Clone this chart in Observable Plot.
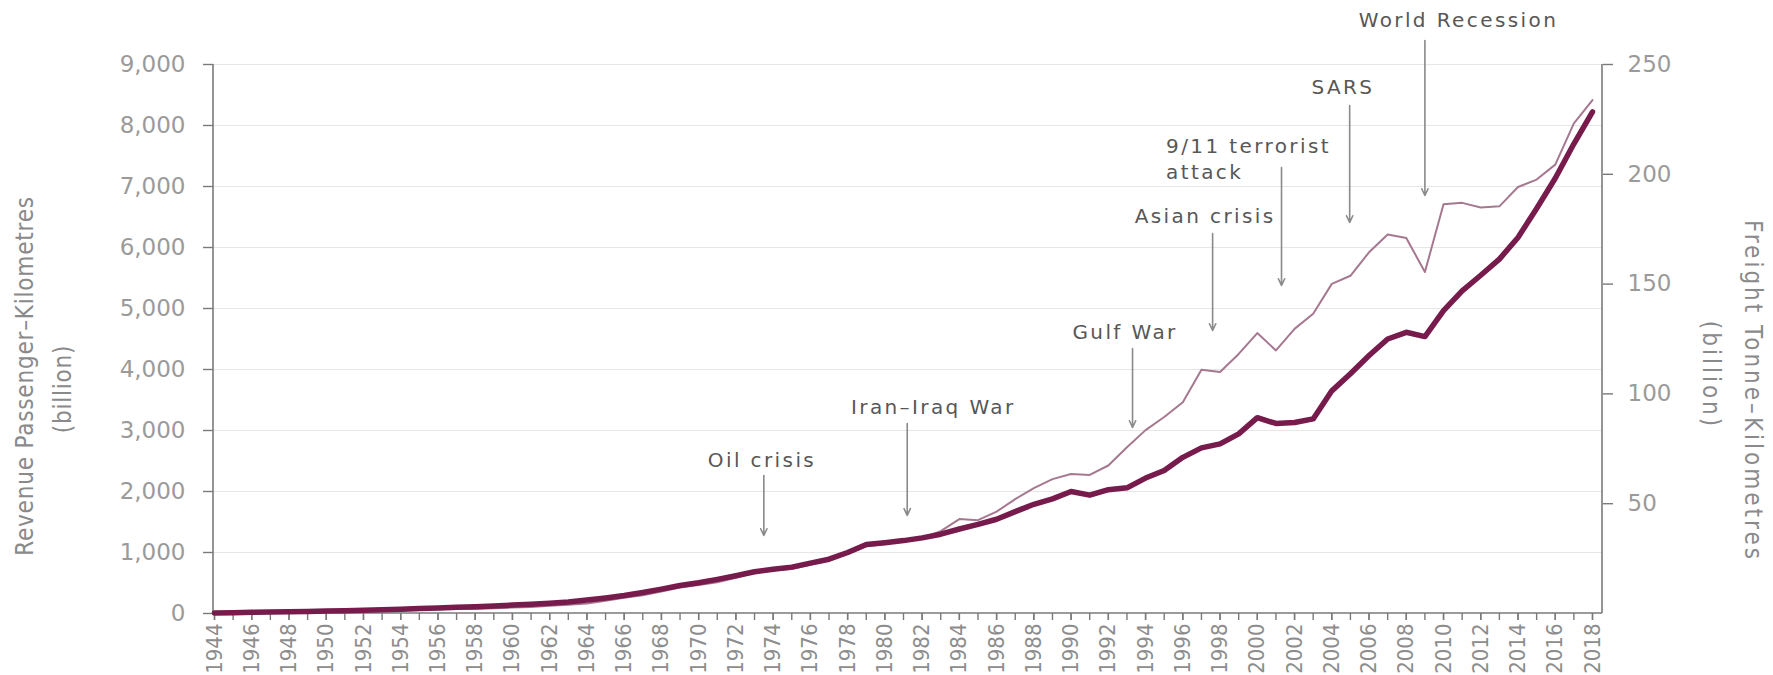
<!DOCTYPE html>
<html>
<head>
<meta charset="utf-8">
<script src="https://cdn.jsdelivr.net/npm/d3@7"></script>
<script src="https://cdn.jsdelivr.net/npm/@observablehq/plot@0.6"></script>
<style>
  html, body { margin: 0; padding: 0; background: #fff; }
  #chart svg { display: block; }
</style>
</head>
<body>
<div id="chart"></div>
<script>
const years = [1944,1945,1946,1947,1948,1949,1950,1951,1952,1953,1954,1955,1956,1957,1958,1959,
  1960,1961,1962,1963,1964,1965,1966,1967,1968,1969,1970,1971,1972,1973,1974,1975,1976,1977,1978,1979,
  1980,1981,1982,1983,1984,1985,1986,1987,1988,1989,1990,1991,1992,1993,1994,1995,1996,1997,1998,1999,
  2000,2001,2002,2003,2004,2005,2006,2007,2008,2009,2010,2011,2012,2013,2014,2015,2016,2017,2018];

// Revenue Passenger-Kilometres (billion), left axis
const passengers = [10,14,20,24,28,33,40,47,54,62,70,80,92,102,110,124,
  138,150,168,190,220,255,295,345,400,460,505,560,620,685,725,760,825,890,1000,1130,
  1160,1195,1240,1300,1385,1460,1545,1670,1790,1880,2000,1940,2030,2060,2220,2345,2560,2715,2780,2945,
  3210,3115,3130,3190,3650,3930,4230,4500,4610,4540,4965,5290,5545,5810,6165,6640,7135,7700,8225];

// Freight Tonne-Kilometres (billion), right axis
const freight = [0.1,0.2,0.3,0.4,0.5,0.6,0.8,1.0,1.1,1.2,1.4,1.6,1.9,2.0,2.1,2.4,
  2.7,3.0,3.5,4.0,4.6,5.8,7.2,8.3,10.0,11.8,13.0,14.2,16.3,18.6,19.7,20.3,22.2,24.3,27.2,30.6,
  31.7,33.0,34.3,37.5,43.0,42.5,46.4,52.1,57.1,61.2,63.5,63.1,67.4,75.7,83.5,89.5,96.2,111.0,110.0,118.2,
  127.7,119.8,129.6,136.5,150.1,153.8,164.5,172.6,171.0,155.5,186.4,187.0,184.9,185.4,194.2,197.6,204.4,223.2,233.8];

const leftTicks = [0,1000,2000,3000,4000,5000,6000,7000,8000,9000];
const rightTicks = [50,100,150,200,250];
const rightMax = 250;
const leftMax = 9000;
const labelYears = years.filter(y => y % 2 === 0);

// Event annotations (data units: year, passenger-km scale)
const eventLabels = ["Oil crisis","Iran\u2013Iraq War","Gulf War","Asian crisis","9/11 terrorist\nattack","SARS","World Recession"];
const eventYears  = [1973.5, 1981.2, 1993.3, 1997.6, 2001.3, 2004.96, 2009.0];
const arrowTop    = [2262, 3115, 4344, 6230, 7311, 8328, 9393];
const arrowBottom = [1279, 1607, 3049, 4639, 5377, 6410, 6852];
const labelX      = [1973.4, 1982.6, 1992.9, 1997.2, 1995.1, 2004.6, 2010.8];
const labelY      = [2508, 3377, 4607, 6508, 7475, 8623, 9721];

const ratio = leftMax / rightMax;
const data = years.map((year, i) => ({year, passengers: passengers[i], freight: freight[i] * ratio}));
const events = eventLabels.map((label, i) => ({
  label, year: eventYears[i], top: arrowTop[i], bottom: arrowBottom[i], tx: labelX[i], ty: labelY[i]
}));

const wideFont = "DejaVu Sans, Verdana, sans-serif";
const narrowFont = "'Liberation Sans Narrow', 'DejaVu Sans Condensed', 'Arial Narrow', sans-serif";
const annotColor = "#575757";
const leftTitleColor = "#8a8a8b";
const rightTitleColor = "#8a8a8c";

const axisLines = (index, scales, values, dims) => {
  const {marginLeft: l, marginRight: r, marginTop: t, marginBottom: b, width: w, height: h} = dims;
  const g = d3.create("svg:g").attr("stroke", "#7a7a7a").attr("stroke-width", 1.6);
  g.append("line").attr("x1", l).attr("x2", l).attr("y1", t).attr("y2", h - b);
  g.append("line").attr("x1", w - r).attr("x2", w - r).attr("y1", t).attr("y2", h - b);
  g.append("line").attr("x1", l).attr("x2", w - r).attr("y1", h - b).attr("y2", h - b);
  return g.node();
};

const chart = Plot.plot({
  width: 1773,
  height: 675,
  marginLeft: 213,
  marginRight: 171,
  marginTop: 64,
  marginBottom: 62,
  style: {background: "#fff", overflow: "visible"},
  x: {domain: [1944, 2018], insetLeft: 1, insetRight: 10},
  y: {domain: [0, leftMax]},
  marks: [
    Plot.gridY(leftTicks.filter(d => d > 0), {stroke: "#e6e6e6", strokeOpacity: 1, strokeWidth: 1.2}),
    Plot.axisX(years, {tickSize: 7, stroke: "#7a7a7a", strokeWidth: 1.4, fill: "none", label: null}),
    Plot.axisX(labelYears, {tickSize: 7, stroke: "#7a7a7a", strokeWidth: 1.4, tickRotate: -90, tickPadding: 3,
      tickFormat: d => String(d), fill: "#8d8d8d", fontSize: 22, fontFamily: narrowFont, label: null}),
    Plot.axisY(leftTicks, {anchor: "left", tickSize: 10, tickPadding: 18, stroke: "#7a7a7a", strokeWidth: 1.4,
      tickFormat: d3.format(","), fill: "#9a9a9a", fontSize: 23, fontFamily: wideFont, label: null}),
    Plot.axisY(rightTicks.map(d => d * ratio), {anchor: "right", tickSize: 10, tickPadding: 15, stroke: "#7a7a7a", strokeWidth: 1.4,
      tickFormat: d => String(Math.round(d / ratio)), fill: "#9a9a9a", fontSize: 23, fontFamily: wideFont, label: null}),
    axisLines,
    Plot.line(data, {x: "year", y: "freight", stroke: "#a67890", strokeWidth: 2, strokeLinejoin: "round"}),
    Plot.line(data, {x: "year", y: "passengers", stroke: "#771a4c", strokeWidth: 5.5, strokeLinejoin: "round", strokeLinecap: "round"}),
    Plot.arrow(events, {x1: "year", x2: "year", y1: "top", y2: "bottom", stroke: "#8a8a8a", strokeWidth: 1.6, headLength: 7, headAngle: 50}),
    Plot.text(events.filter(d => !d.label.includes("\n")), {x: "tx", y: "ty", text: "label", textAnchor: "middle",
      fontSize: 20, fill: annotColor, fontFamily: wideFont}),
    Plot.text(events.filter(d => d.label.includes("\n")), {x: "tx", y: "ty", text: "label", textAnchor: "start",
      lineAnchor: "middle", lineHeight: 1.3, fontSize: 20, fill: annotColor, fontFamily: wideFont}),
    // axis titles
    Plot.text(["Revenue Passenger\u2013Kilometres"], {frameAnchor: "left", textAnchor: "middle", dx: -188, dy: 37, rotate: -90,
      fontSize: 24, fill: leftTitleColor, fontFamily: narrowFont}),
    Plot.text(["(billion)"], {frameAnchor: "left", textAnchor: "middle", dx: -150, dy: 50, rotate: -90,
      fontSize: 24, fill: leftTitleColor, fontFamily: narrowFont}),
    Plot.text(["Freight Tonne\u2013Kilometres"], {frameAnchor: "right", textAnchor: "middle", dx: 150, dy: 52, rotate: 90,
      fontSize: 24, fill: rightTitleColor, fontFamily: narrowFont}),
    Plot.text(["(billion)"], {frameAnchor: "right", textAnchor: "middle", dx: 108, dy: 36, rotate: 90,
      fontSize: 24, fill: rightTitleColor, fontFamily: narrowFont})
  ]
});
const sel = d3.select(chart);
sel.selectAll(`g[fill="${annotColor}"] text`).style("letter-spacing", "2.4px");
sel.selectAll(`g[fill="${leftTitleColor}"] text`).style("letter-spacing", "0.8px");
sel.selectAll(`g[fill="${rightTitleColor}"] text`).style("letter-spacing", "3px");
document.getElementById("chart").appendChild(chart);
</script>
</body>
</html>
